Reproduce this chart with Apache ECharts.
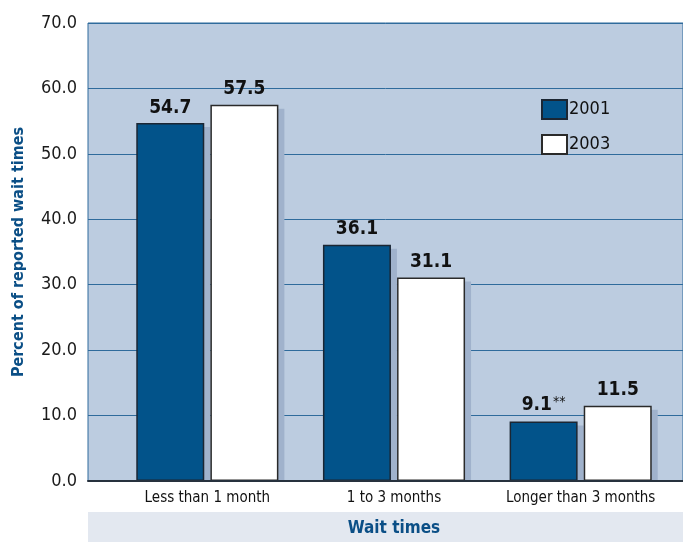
<!DOCTYPE html>
<html>
<head>
<meta charset="utf-8">
<script src="https://cdn.jsdelivr.net/npm/echarts@6/dist/echarts.min.js"></script>
<style>
  html, body { margin: 0; padding: 0; background: #ffffff; }
  #chart { width: 683px; height: 542px; }
</style>
</head>
<body>
<div id="chart"></div>
<script>
// Wait-time categories and reported shares (%)
var categories = ['Less than 1 month', '1 to 3 months', 'Longer than 3 months'];
var values2001 = [54.7, 36.1, 9.1];
var values2003 = [57.5, 31.1, 11.5];
var notes2001 = ['', '', '**'];
var notes2003 = ['', '', ''];
var seriesNames = ['2001', '2003'];
var yTicks = [0, 10, 20, 30, 40, 50, 60, 70];

var FONT = '"DejaVu Sans Condensed", "Liberation Sans Narrow", "Roboto", sans-serif';
var NAVY = '#0b4f86';
var SHADOW = '#a0b2cc';

function labelFor(notes) {
  return {
    show: true,
    position: 'top',
    distance: 6,
    formatter: function (p) {
      var n = notes[p.dataIndex];
      return '{v|' + p.value.toFixed(1) + '}' + (n ? '{n|' + n + '}' : '');
    },
    rich: {
      v: { fontFamily: FONT, fontSize: 19, fontWeight: 'bold', color: '#111111' },
      n: { fontFamily: FONT, fontSize: 14, color: '#111111', verticalAlign: 'top', padding: [0, 0, 6, 1] }
    }
  };
}

// drop-shadow bars: same values, drawn in a grid shifted right/down
function shadowSeries(values) {
  return {
    type: 'bar', xAxisIndex: 2, yAxisIndex: 2, data: values,
    barWidth: 68, barGap: '9%', silent: true, clip: true, z: 1,
    itemStyle: { color: SHADOW }, label: { show: false }
  };
}

var chart = echarts.init(document.getElementById('chart'), null, { renderer: 'canvas' });
chart.setOption({
  animation: false,
  backgroundColor: '#ffffff',
  graphic: [
    { type: 'rect', left: 88, top: 512, shape: { width: 595, height: 30 }, style: { fill: '#e3e8f0' }, z: 0 }
  ],
  grid: [
    { left: 88, right: 0, top: 23, bottom: 61, outerBoundsMode: 'none', containLabel: false, show: true, backgroundColor: '#bccce0', borderColor: '#2f6b9c', borderWidth: 1 },
    { left: 114, width: 560, top: 23, bottom: 61, outerBoundsMode: 'none', containLabel: false },
    { left: 120, width: 560, top: 27, bottom: 61, outerBoundsMode: 'none', containLabel: false }
  ],
  legend: {
    data: seriesNames,
    orient: 'vertical',
    left: 536,
    top: 94,
    icon: 'rect',
    itemWidth: 25,
    itemHeight: 19,
    itemGap: 14,
    textStyle: { fontFamily: FONT, fontSize: 18, color: '#111111', padding: [0, 0, 0, -3] }
  },
  xAxis: [
    {
      gridIndex: 0, type: 'category', data: categories, z: 5,
      axisLine: { show: true, lineStyle: { color: '#26313d', width: 2 } },
      axisTick: { show: false }, axisLabel: { show: false }, splitLine: { show: false }
    },
    {
      gridIndex: 1, type: 'category', data: categories,
      axisLine: { show: false }, axisTick: { show: false },
      axisLabel: { interval: 0, fontFamily: FONT, fontSize: 15, color: '#111111', margin: 10 },
      name: 'Wait times', nameLocation: 'middle', nameGap: 39,
      nameTextStyle: { fontFamily: FONT, fontSize: 17, fontWeight: 'bold', color: NAVY }
    },
    {
      gridIndex: 2, type: 'category', data: categories, show: false
    }
  ],
  yAxis: [
    {
      gridIndex: 0, type: 'value', min: 0, max: 70, interval: 10,
      axisLine: { show: false }, axisTick: { show: false },
      axisLabel: { fontFamily: FONT, fontSize: 18, color: '#1a1a1a', margin: 11, formatter: function (v) { return yTicks.indexOf(v) >= 0 ? v.toFixed(1) : ''; } },
      splitLine: { show: true, lineStyle: { color: '#2f6b9c', width: 1 } },
      name: 'Percent of reported wait times', nameLocation: 'middle', nameGap: 61, nameRotate: 90,
      nameTextStyle: { fontFamily: FONT, fontSize: 16, fontWeight: 'bold', color: NAVY }
    },
    {
      gridIndex: 1, type: 'value', min: 0, max: 70, interval: 10,
      axisLine: { show: false }, axisTick: { show: false }, axisLabel: { show: false }, splitLine: { show: false }
    },
    {
      // same pixel scale as the main axis, offset 4px downward
      gridIndex: 2, type: 'value', min: 70 - 70 * 454 / 458, max: 70, show: false, splitLine: { show: false }
    }
  ],
  series: [
    shadowSeries(values2001),
    shadowSeries(values2003),
    {
      name: seriesNames[0], type: 'bar', xAxisIndex: 1, yAxisIndex: 1, z: 3,
      data: values2001, barWidth: 68, barGap: '9%',
      itemStyle: { color: '#02538a', borderColor: '#1b2633', borderWidth: 1.5 },
      label: labelFor(notes2001)
    },
    {
      name: seriesNames[1], type: 'bar', xAxisIndex: 1, yAxisIndex: 1, z: 3,
      data: values2003, barWidth: 68,
      itemStyle: { color: '#ffffff', borderColor: '#2a2a2a', borderWidth: 1.5 },
      label: labelFor(notes2003)
    }
  ]
});
</script>
</body>
</html>
